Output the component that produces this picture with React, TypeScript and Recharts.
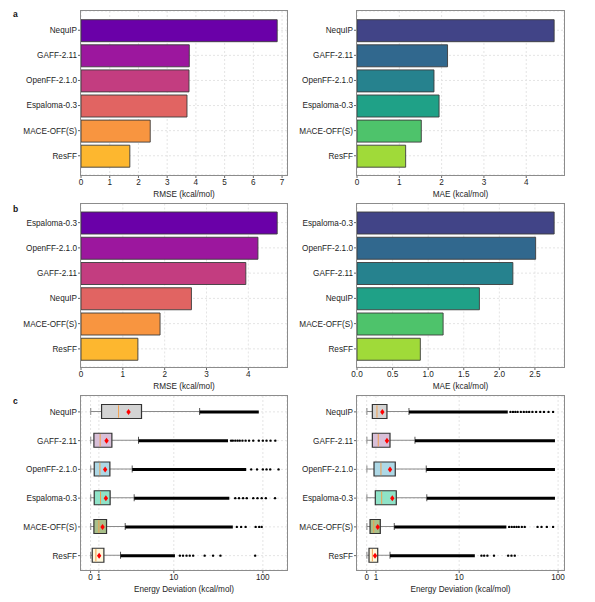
import React from 'react';
import {
  BarChart,
  Bar,
  XAxis,
  YAxis,
  CartesianGrid,
  Cell,
  ComposedChart,
  Scatter,
} from 'recharts';

const FONT = '"Liberation Sans", Arial, Helvetica, sans-serif';
const TXT = '#1e1e1e';
const FS = 8.2;

// ---------- panel a ----------
const aModels = ['NequIP', 'GAFF-2.11', 'OpenFF-2.1.0', 'Espaloma-0.3', 'MACE-OFF(S)', 'ResFF'];
const aRmse = [6.83, 3.77, 3.76, 3.69, 2.41, 1.7];
const aMae = [4.66, 2.14, 1.82, 1.94, 1.52, 1.15];
const aRmseTicks = [0, 1, 2, 3, 4, 5, 6, 7];
const aMaeTicks = [0, 1, 2, 3, 4];

// ---------- panel b ----------
const bModels = ['Espaloma-0.3', 'OpenFF-2.1.0', 'GAFF-2.11', 'NequIP', 'MACE-OFF(S)', 'ResFF'];
const bRmse = [4.69, 4.23, 3.94, 2.64, 1.89, 1.36];
const bMae = [2.77, 2.51, 2.19, 1.72, 1.21, 0.89];
const bRmseTicks = [0, 1, 2, 3, 4];
const bMaeTicks = [0, 0.5, 1, 1.5, 2, 2.5];

const plasma = ['#6a00a8', '#9c179e', '#c33d80', '#e16462', '#f89540', '#fdb72f'];
const viridis = ['#414487', '#31688e', '#26828e', '#1fa187', '#4ec36b', '#a0da39'];

// ---------- panel c (energy deviation, kcal/mol) ----------
const cModels = ['NequIP', 'GAFF-2.11', 'OpenFF-2.1.0', 'Espaloma-0.3', 'MACE-OFF(S)', 'ResFF'];
const cFills = ['#d3d3d3', '#d8bfd8', '#add8e6', '#8fe3c8', '#a9c08a', '#fff8dc'];
const cTickLabels = [0, 1, 10, 100];

// left
const cLWlo = [0.02, 0.02, 0.02, 0.02, 0.02, 0.02];
const cLQ1 = [1.32, 0.4, 0.44, 0.44, 0.4, 0.2];
const cLMed = [3.36, 1.15, 1.12, 1.2, 1.0, 0.64];
const cLQ3 = [6.12, 2.56, 2.32, 2.35, 1.92, 1.6];
const cLMean = [4.56, 1.92, 1.75, 1.84, 1.44, 1.03];
const cLWhi = [19.5, 5.76, 5.0, 5.24, 4.16, 3.6];
const cLDenseEnd = [90, 40.6, 65, 42, 46, 10.3];
const cLSparse = [
  [],
  [44, 46, 49, 52, 55, 59, 64, 70, 78, 90, 100, 110, 122, 138],
  [74, 86, 100, 110, 121, 150],
  [49, 54, 60, 66, 78, 87, 97, 108, 137],
  [51, 57, 64, 83, 91, 97],
  [11.7, 12.7, 13.9, 15.1, 16.5, 22.2, 27.6, 33.4, 82],
];

// right
const cRWlo = [0.02, 0.02, 0.02, 0.02, 0.02, 0.02];
const cRQ1 = [0.61, 0.61, 0.79, 0.93, 0.36, 0.25];
const cRMed = [1.11, 1.25, 1.54, 1.62, 0.76, 0.61];
const cRQ3 = [2.19, 2.52, 3.09, 3.2, 1.47, 1.19];
const cRMean = [1.69, 2.19, 2.52, 2.77, 1.19, 0.9];
const cRWhi = [4.57, 5.22, 6.44, 6.5, 2.98, 2.52];
const cRDenseEnd = [31, 93, 93, 93, 30, 14.4];
const cRSparse = [
  [33, 35, 37, 39, 42, 45, 48, 51, 55, 60, 66, 72, 80, 89],
  [],
  [],
  [],
  [32, 34, 36, 38, 40, 43, 46, 62, 68, 77, 89],
  [16.8, 17.9, 19.3, 22.5, 31.3, 33.8, 36.5],
];

// symmetric-log style axis transform: linear below 10, logarithmic above
const T = (v: number) => (v <= 10 ? v : 10 + 10.7 * Math.log10(v / 10));

const tickStyle = { fontSize: FS, fill: TXT, fontFamily: FONT };
const labelStyle = (value: string) => ({
  value,
  position: 'insideBottom' as const,
  offset: 4.5,
  fontSize: FS,
  fill: TXT,
  fontFamily: FONT,
});

const XH = 26; // x-axis band height
const CW = 300; // chart width

const Frame = ({ left, top, width, height }: { left: number; top: number; width: number; height: number }) => (
  <div
    style={{
      position: 'absolute',
      left: left - 0.6,
      top: top - 0.6,
      width: width + 1.2,
      height: height + 1.2,
      boxSizing: 'border-box',
      border: '1.2px solid #8c8c8c',
      pointerEvents: 'none',
    }}
  />
);

type BarPanelProps = {
  left: number;
  top: number;
  height: number;
  marginTop: number;
  yWidth: number;
  marginRight: number;
  names: string[];
  values: number[];
  colors: string[];
  ticks: number[];
  fmt: (v: number) => string;
  xLabel: string;
  padTop: number;
  padBottom: number;
};

function BarPanel(p: BarPanelProps) {
  const data = p.names.map((name, i) => ({ name, value: p.values[i] }));
  const xMax = Math.max(...p.values) * 1.05;
  return (
    <>
      <div style={{ position: 'absolute', left: p.left, top: p.top }}>
        <BarChart
          width={CW}
          height={p.height}
          data={data}
          layout="vertical"
          margin={{ top: p.marginTop, right: p.marginRight, bottom: 0, left: 0 }}
        >
          <CartesianGrid stroke="#e4e4e4" strokeDasharray="2 2" />
          <XAxis
            type="number"
            domain={[0, xMax]}
            allowDataOverflow
            ticks={p.ticks}
            interval={0}
            tickFormatter={p.fmt}
            tick={tickStyle}
            tickSize={3}
            tickMargin={1.5}
            tickLine={{ stroke: '#666' }}
            axisLine={false}
            height={XH}
            label={labelStyle(p.xLabel)}
          />
          <YAxis
            type="category"
            dataKey="name"
            width={p.yWidth}
            interval={0}
            tick={tickStyle}
            tickSize={3}
            tickMargin={1}
            tickLine={{ stroke: '#666' }}
            axisLine={false}
            padding={{ top: p.padTop, bottom: p.padBottom }}
          />
          <Bar dataKey="value" barSize={22} stroke="#3c3c3c" strokeWidth={0.9} isAnimationActive={false}>
            {data.map((d, i) => (
              <Cell key={d.name} fill={p.colors[i]} />
            ))}
          </Bar>
        </BarChart>
      </div>
      <Frame
        left={p.left + p.yWidth}
        top={p.top + p.marginTop}
        width={CW - p.yWidth - p.marginRight}
        height={p.height - p.marginTop - XH}
      />
    </>
  );
}

type BoxPanelProps = {
  left: number;
  yWidth: number;
  marginRight: number;
  domain: [number, number];
  wlo: number[];
  q1: number[];
  med: number[];
  q3: number[];
  mean: number[];
  whi: number[];
  denseEnd: number[];
  sparse: number[][];
};

const WhiskerShape = (props: any) => {
  const { x, y, width, height } = props;
  const cy = y + height / 2;
  return (
    <g>
      <line x1={x} x2={x + width} y1={cy} y2={cy} stroke="#8a8a8a" strokeWidth={1} />
      <line x1={x} x2={x} y1={cy - 3.5} y2={cy + 3.5} stroke="#8a8a8a" strokeWidth={1} />
      <line x1={x + width} x2={x + width} y1={cy - 3.5} y2={cy + 3.5} stroke="#555" strokeWidth={1} />
    </g>
  );
};

const MedianShape = (props: any) => {
  const { x, y, width, height } = props;
  return <line x1={x + width} x2={x + width} y1={y + 0.8} y2={y + height - 0.8} stroke="#f0a050" strokeWidth={1} />;
};

const MeanShape = (props: any) => {
  const { cx, cy } = props;
  return <polygon points={`${cx},${cy - 3} ${cx + 2.2},${cy} ${cx},${cy + 3} ${cx - 2.2},${cy}`} fill="#ff0000" />;
};

const OutlierShape = (props: any) => {
  const { cx, cy } = props;
  return <circle cx={cx} cy={cy} r={1.2} fill="#000" />;
};

const C_TOP = 390;
const C_H = 206;
const C_MT = 6;

function BoxPanel(p: BoxPanelProps) {
  const rows = cModels.map((name, i) => ({
    name,
    whisk: [T(p.wlo[i]), T(p.whi[i])],
    dense: [T(p.whi[i]), T(p.denseEnd[i])],
    box: [T(p.q1[i]), T(p.q3[i])],
    med: [T(p.q1[i]), T(p.med[i])],
  }));
  const means = cModels.map((_, i) => ({ x: T(p.mean[i]), y: i + 0.5 }));
  const outs = p.sparse.flatMap((arr, i) => arr.map((v) => ({ x: T(v), y: i + 0.5 })));
  const pad = { top: 1.5, bottom: 0 };
  const ticks = cTickLabels.map(T);
  return (
    <>
      <div style={{ position: 'absolute', left: p.left, top: C_TOP }}>
        <ComposedChart
          width={CW}
          height={C_H}
          data={rows}
          layout="vertical"
          margin={{ top: C_MT, right: p.marginRight, bottom: 0, left: 0 }}
        >
          <CartesianGrid stroke="#e4e4e4" strokeDasharray="2 2" />
          <XAxis
            type="number"
            domain={p.domain}
            allowDataOverflow
            ticks={ticks}
            interval={0}
            tickFormatter={(_v: number, i: number) => String(cTickLabels[i])}
            tick={tickStyle}
            tickSize={3}
            tickMargin={1.5}
            tickLine={{ stroke: '#666' }}
            axisLine={false}
            height={XH}
            label={labelStyle('Energy Deviation (kcal/mol)')}
          />
          <YAxis
            type="category"
            dataKey="name"
            width={p.yWidth}
            interval={0}
            tick={tickStyle}
            tickSize={3}
            tickMargin={1}
            tickLine={{ stroke: '#666' }}
            axisLine={false}
            padding={pad}
          />
          <YAxis yAxisId="w" type="category" dataKey="name" hide padding={pad} />
          <YAxis yAxisId="d" type="category" dataKey="name" hide padding={pad} />
          <YAxis yAxisId="m" type="category" dataKey="name" hide padding={pad} />
          <YAxis yAxisId="num" type="number" dataKey="y" domain={[0, 6]} allowDataOverflow hide padding={pad} />
          <Bar yAxisId="w" dataKey="whisk" barSize={14} shape={WhiskerShape} isAnimationActive={false} />
          <Bar yAxisId="d" dataKey="dense" barSize={3} fill="#000" isAnimationActive={false} />
          <Bar dataKey="box" barSize={14} stroke="#333" strokeWidth={1.2} isAnimationActive={false}>
            {rows.map((r, i) => (
              <Cell key={r.name} fill={cFills[i]} />
            ))}
          </Bar>
          <Bar yAxisId="m" dataKey="med" barSize={14} shape={MedianShape} isAnimationActive={false} />
          <Scatter yAxisId="num" data={outs} dataKey="x" shape={OutlierShape} isAnimationActive={false} />
          <Scatter yAxisId="num" data={means} dataKey="x" shape={MeanShape} isAnimationActive={false} />
        </ComposedChart>
      </div>
      <Frame
        left={p.left + p.yWidth}
        top={C_TOP + C_MT}
        width={CW - p.yWidth - p.marginRight}
        height={C_H - C_MT - XH}
      />
    </>
  );
}

const PanelLetter = ({ x, y, t }: { x: number; y: number; t: string }) => (
  <div
    style={{
      position: 'absolute',
      left: x,
      top: y,
      fontFamily: FONT,
      fontWeight: 'bold',
      fontSize: 8.5,
      lineHeight: 1,
      color: '#111',
    }}
  >
    {t}
  </div>
);

const int = (v: number) => String(v);
const one = (v: number) => v.toFixed(1);

export default function App() {
  return (
    <div style={{ position: 'absolute', left: 0, top: 0, width: 595, height: 602, background: '#fff' }}>
      <PanelLetter x={13} y={10} t="a" />
      <PanelLetter x={13} y={205} t="b" />
      <PanelLetter x={13} y={397} t="c" />

      <BarPanel
        left={0}
        top={0}
        height={201}
        marginTop={11}
        yWidth={81}
        marginRight={13}
        names={aModels}
        values={aRmse}
        colors={plasma}
        ticks={aRmseTicks}
        fmt={int}
        xLabel="RMSE (kcal/mol)"
        padTop={6.7}
        padBottom={6.7}
      />
      <BarPanel
        left={280}
        top={0}
        height={201}
        marginTop={11}
        yWidth={77}
        marginRight={16}
        names={aModels}
        values={aMae}
        colors={viridis}
        ticks={aMaeTicks}
        fmt={int}
        xLabel="MAE (kcal/mol)"
        padTop={6.7}
        padBottom={6.7}
      />
      <BarPanel
        left={0}
        top={195}
        height={198}
        marginTop={8.5}
        yWidth={81}
        marginRight={13}
        names={bModels}
        values={bRmse}
        colors={plasma}
        ticks={bRmseTicks}
        fmt={int}
        xLabel="RMSE (kcal/mol)"
        padTop={6.5}
        padBottom={5.5}
      />
      <BarPanel
        left={280}
        top={195}
        height={198}
        marginTop={8.5}
        yWidth={77}
        marginRight={16}
        names={bModels}
        values={bMae}
        colors={viridis}
        ticks={bMaeTicks}
        fmt={one}
        xLabel="MAE (kcal/mol)"
        padTop={6.5}
        padBottom={5.5}
      />

      <BoxPanel
        left={0}
        yWidth={81}
        marginRight={13}
        domain={[-1.15, 23.6]}
        wlo={cLWlo}
        q1={cLQ1}
        med={cLMed}
        q3={cLQ3}
        mean={cLMean}
        whi={cLWhi}
        denseEnd={cLDenseEnd}
        sparse={cLSparse}
      />
      <BoxPanel
        left={280}
        yWidth={77}
        marginRight={16}
        domain={[-1.05, 21.34]}
        wlo={cRWlo}
        q1={cRQ1}
        med={cRMed}
        q3={cRQ3}
        mean={cRMean}
        whi={cRWhi}
        denseEnd={cRDenseEnd}
        sparse={cRSparse}
      />
    </div>
  );
}
